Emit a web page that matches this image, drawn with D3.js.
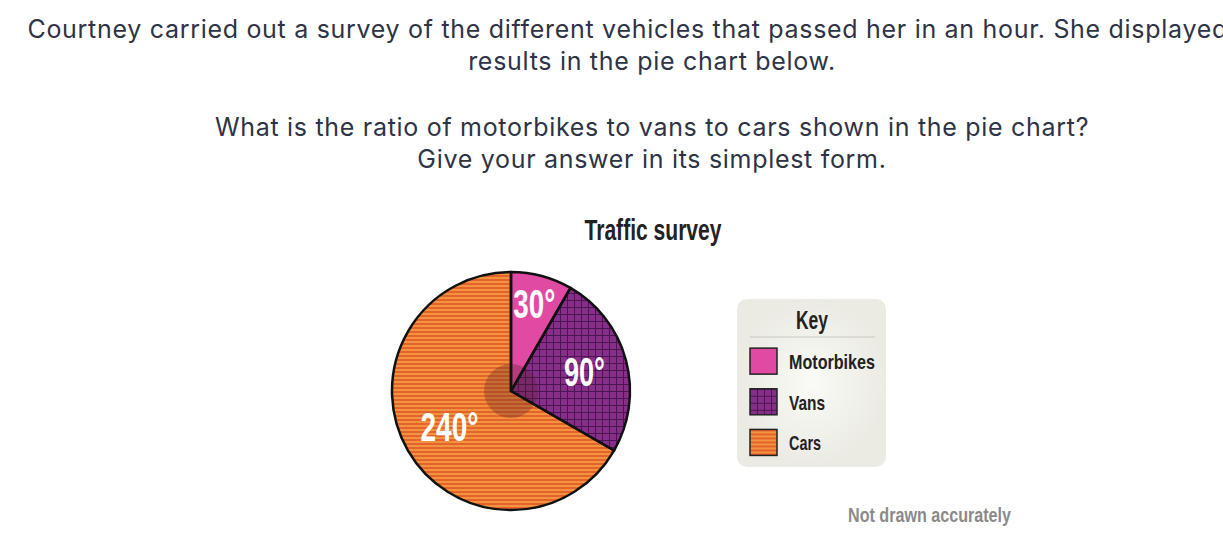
<!DOCTYPE html>
<meta charset="utf-8">
<head>
  <title>Traffic survey</title>
  <style>
    body { margin: 0; background: #fff; overflow: hidden; }
    .cond { font-family: "Liberation Sans", Arial, sans-serif; font-weight: bold; }
  </style>
</head>
<script src="https://cdn.jsdelivr.net/npm/d3@7"></script>
<div id="my_dataviz"></div>
<script>

// data
var categories = ["Motorbikes", "Vans", "Cars"];
var angles = [30, 90, 240];
var sliceColors = ["#e04aa3", "#872e8a", "#e5632a"];
var questionLines = [
  "Courtney carried out a survey of the different vehicles that passed her in an hour. She displayed her",
  "results in the pie chart below.",
  "What is the ratio of motorbikes to vans to cars shown in the pie chart?",
  "Give your answer in its simplest form."
];

var W = 1223, H = 543;
var svg = d3.select("#my_dataviz").append("svg")
  .attr("width", W).attr("height", H);

// squeeze bold text to a condensed look
function condense(sel, len) {
  sel.attr("textLength", len).attr("lengthAdjust", "spacingAndGlyphs");
}

// patterns
var defs = svg.append("defs");
var grid = defs.append("pattern").attr("id", "pat-vans")
  .attr("patternUnits", "userSpaceOnUse").attr("width", 7).attr("height", 7);
grid.append("rect").attr("width", 7).attr("height", 7).attr("fill", sliceColors[1]);
grid.append("path").attr("d", "M0,0.5H7M0.5,0V7").attr("stroke", "#4a1650").attr("stroke-width", 1);

var stripes = defs.append("pattern").attr("id", "pat-cars")
  .attr("patternUnits", "userSpaceOnUse").attr("width", 4).attr("height", 4);
stripes.append("rect").attr("width", 4).attr("height", 4).attr("fill", sliceColors[2]);
stripes.append("rect").attr("y", 2).attr("width", 4).attr("height", 2).attr("fill", "#f09440");

var keyGrad = defs.append("radialGradient").attr("id", "key-bg");
keyGrad.append("stop").attr("offset", "0%").attr("stop-color", "#fafaf6");
keyGrad.append("stop").attr("offset", "100%").attr("stop-color", "#ebebe4");

var fills = [sliceColors[0], "url(#pat-vans)", "url(#pat-cars)"];

// question text
var qy = [38, 70, 136, 168];
svg.selectAll(".q").data(questionLines).enter().append("text")
  .attr("x", 652).attr("y", function(d, i) { return qy[i]; })
  .attr("text-anchor", "middle")
  .style("font-family", "Inter, 'Open Sans', sans-serif")
  .style("font-size", "25px")
  .style("letter-spacing", "0.7px")
  .style("fill", "#2e3345")
  .text(function(d) { return d; });

// title
svg.append("text").attr("class", "cond")
  .attr("x", 653).attr("y", 240).attr("text-anchor", "middle")
  .style("font-size", "29px").style("fill", "#222")
  .text("Traffic survey").call(condense, 137);

// pie
var cx = 511, cy = 391, r = 119;
var pie = d3.pie().sort(null).value(function(d) { return d; });
var arcs = pie(angles);
var arc = d3.arc().innerRadius(0).outerRadius(r);
var g = svg.append("g").attr("transform", "translate(" + cx + "," + cy + ")");

g.selectAll(".slice").data(arcs).enter().append("path")
  .attr("d", arc)
  .attr("fill", function(d, i) { return fills[i]; });

// centre shading
g.append("circle").attr("r", 27).attr("fill", "#5a1a20").attr("opacity", 0.3);

g.selectAll(".edge").data(arcs).enter().append("path")
  .attr("d", arc)
  .attr("fill", "none")
  .attr("stroke", "#111").attr("stroke-width", 2.5).attr("stroke-linejoin", "round");

// angle labels
var labelRadius = [90, 76, 71];
var labelWidth = [42, 41, 58];
var labelArc = function(d, i) { return d3.arc().innerRadius(labelRadius[i]).outerRadius(labelRadius[i]).centroid(d); };
g.selectAll(".lab").data(arcs).enter().append("text").attr("class", "cond")
  .attr("transform", function(d, i) { var c = labelArc(d, i); return "translate(" + c[0] + "," + c[1] + ")"; })
  .attr("text-anchor", "middle").attr("dy", "0.36em")
  .attr("textLength", function(d, i) { return labelWidth[i]; })
  .attr("lengthAdjust", "spacingAndGlyphs")
  .style("font-size", "40px").style("fill", "#fff")
  .text(function(d, i) { return angles[i] + "°"; });

// key
var key = svg.append("g").attr("transform", "translate(737,299)");
key.append("rect").attr("width", 149).attr("height", 168).attr("rx", 10)
  .attr("fill", "url(#key-bg)");
key.append("text").attr("class", "cond").attr("x", 75).attr("y", 30)
  .attr("text-anchor", "middle").style("font-size", "25px").style("fill", "#222")
  .text("Key").call(condense, 32);
key.append("line").attr("x1", 13).attr("x2", 138).attr("y1", 38).attr("y2", 38)
  .attr("stroke", "#c8c8c0").attr("stroke-width", 1);

var keyWidths = [86, 36, 32];
var ky = d3.scaleBand().domain(categories).range([41, 166]).paddingInner(0.325).paddingOuter(0.2);
var items = key.selectAll(".item").data(categories).enter().append("g")
  .attr("transform", function(d) { return "translate(13," + ky(d) + ")"; });
items.append("rect").attr("width", 27).attr("height", 26)
  .attr("fill", function(d, i) { return fills[i]; })
  .attr("stroke", "#222").attr("stroke-width", 1.5);
items.append("text").attr("class", "cond").attr("x", 39).attr("y", 21)
  .attr("textLength", function(d, i) { return keyWidths[i]; })
  .attr("lengthAdjust", "spacingAndGlyphs")
  .style("font-size", "21px").style("fill", "#222")
  .text(function(d) { return d; });

// note
svg.append("text").attr("class", "cond")
  .attr("x", 848).attr("y", 522)
  .style("font-size", "21px").style("fill", "#8a8a8a")
  .text("Not drawn accurately").call(condense, 163);

</script>
